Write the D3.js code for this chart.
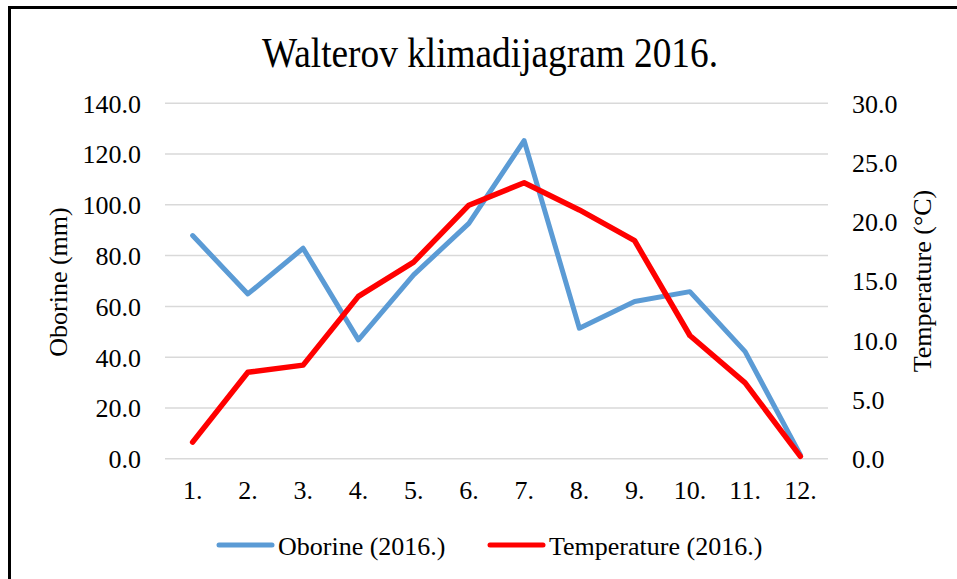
<!DOCTYPE html>
<html>
<head>
<meta charset="utf-8">
<script src="https://cdn.jsdelivr.net/npm/d3@7"></script>
<style>
  body { margin: 0; background: #fff; }
  text { font-family: "Liberation Serif", "Times New Roman", serif; fill: #000; }
</style>
</head>
<body>
<svg id="chart" width="957" height="579"></svg>
<script>
// months and values
var months = ["1.", "2.", "3.", "4.", "5.", "6.", "7.", "8.", "9.", "10.", "11.", "12."];
var oborine = [87.9, 64.9, 82.9, 46.8, 72.4, 92.7, 125.3, 51.4, 61.9, 65.8, 42.2, 1.5];
var temperature = [1.4, 7.3, 7.9, 13.7, 16.6, 21.4, 23.3, 21.0, 18.4, 10.4, 6.4, 0.2];
var leftTicks = [0, 20, 40, 60, 80, 100, 120, 140];
var rightTicks = [0, 5, 10, 15, 20, 25, 30];

var svg = d3.select("#chart");

// chart frame (only left and top edges show)
svg.append("line").attr("x1", 9.5).attr("x2", 9.5).attr("y1", 6).attr("y2", 579)
    .attr("stroke", "#000").attr("stroke-width", 3);
svg.append("line").attr("x1", 8).attr("x2", 957).attr("y1", 7.5).attr("y2", 7.5)
    .attr("stroke", "#000").attr("stroke-width", 3);

var plotL = 165, plotR = 828, plotT = 103.3, plotB = 458.7;
var fs = 26;

var x = d3.scaleBand().domain(months).range([plotL, plotR]);
var yL = d3.scaleLinear().domain([0, 140]).range([plotB, plotT]);
var yR = d3.scaleLinear().domain([0, 30]).range([plotB, plotT]);

// gridlines
svg.append("g")
    .selectAll("line")
    .data(leftTicks)
    .enter()
    .append("line")
    .attr("x1", plotL).attr("x2", plotR)
    .attr("y1", function(d) { return yL(d); })
    .attr("y2", function(d) { return yL(d); })
    .attr("stroke", "#d9d9d9")
    .attr("stroke-width", 1.5);

// left axis
var axL = svg.append("g")
    .attr("transform", "translate(" + (plotL - 24) + ",0)")
    .call(d3.axisLeft(yL).tickValues(leftTicks).tickFormat(d3.format(".1f")).tickSize(0).tickPadding(0));
axL.select(".domain").remove();
axL.selectAll("text").attr("font-size", fs).attr("dy", "0.34em")
    .style("font-family", "Liberation Serif");

// right axis
var axR = svg.append("g")
    .attr("transform", "translate(" + (plotR + 24) + ",0)")
    .call(d3.axisRight(yR).tickValues(rightTicks).tickFormat(d3.format(".1f")).tickSize(0).tickPadding(0));
axR.select(".domain").remove();
axR.selectAll("text").attr("font-size", fs).attr("dy", "0.34em")
    .style("font-family", "Liberation Serif");

// x axis
var axX = svg.append("g")
    .attr("transform", "translate(0," + plotB + ")")
    .call(d3.axisBottom(x).tickSize(0).tickPadding(22));
axX.select(".domain").remove();
axX.selectAll("text").attr("font-size", fs).style("font-family", "Liberation Serif");

// series
var lineL = d3.line()
    .x(function(d, i) { return x(months[i]) + x.bandwidth() / 2; })
    .y(function(d) { return yL(d); });
var lineR = d3.line()
    .x(function(d, i) { return x(months[i]) + x.bandwidth() / 2; })
    .y(function(d) { return yR(d); });

svg.append("path").datum(oborine)
    .attr("d", lineL)
    .attr("fill", "none").attr("stroke", "#5b9bd5")
    .attr("stroke-width", 5).attr("stroke-linecap", "round").attr("stroke-linejoin", "round");

svg.append("path").datum(temperature)
    .attr("d", lineR)
    .attr("fill", "none").attr("stroke", "#ff0000")
    .attr("stroke-width", 5.5).attr("stroke-linecap", "round").attr("stroke-linejoin", "round");

// title
svg.append("text")
    .attr("x", 490).attr("y", 67)
    .attr("text-anchor", "middle")
    .attr("font-size", 42)
    .attr("textLength", 456)
    .attr("lengthAdjust", "spacingAndGlyphs")
    .text("Walterov klimadijagram 2016.");

// axis titles
svg.append("text")
    .attr("transform", "translate(67,282) rotate(-90)")
    .attr("text-anchor", "middle")
    .attr("font-size", fs)
    .text("Oborine (mm)");
svg.append("text")
    .attr("transform", "translate(931,281) rotate(-90)")
    .attr("text-anchor", "middle")
    .attr("font-size", fs)
    .text("Temperature  (°C)");

// legend
var legend = [
    { name: "Oborine (2016.)", color: "#5b9bd5", x: 219 },
    { name: "Temperature (2016.)", color: "#ff0000", x: 490 }
];
var lg = svg.append("g").selectAll("g").data(legend).enter().append("g")
    .attr("transform", function(d) { return "translate(" + d.x + ",545)"; });
lg.append("line")
    .attr("x1", 0).attr("x2", 53)
    .attr("stroke", function(d) { return d.color; })
    .attr("stroke-width", 5).attr("stroke-linecap", "round");
lg.append("text")
    .attr("x", 59).attr("y", 10)
    .attr("font-size", fs)
    .text(function(d) { return d.name; });
</script>
</body>
</html>
